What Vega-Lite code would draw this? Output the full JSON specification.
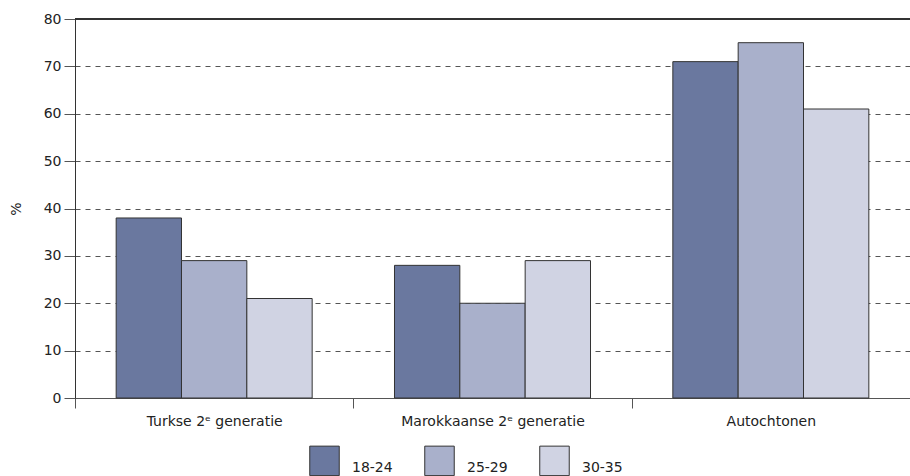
{
  "$schema": "https://vega.github.io/schema/vega-lite/v6.json",
  "width": 835,
  "height": 379,
  "autosize": {"type": "none"},
  "padding": {"left": 75, "top": 19, "right": 0, "bottom": 78},
  "config": {
    "font": "DejaVu Sans",
    "view": {"stroke": null}
  },
  "data": {
    "values": [
      {"groep": "Turkse 2ᵉ generatie", "leeftijd": "18-24", "waarde": 38},
      {"groep": "Turkse 2ᵉ generatie", "leeftijd": "25-29", "waarde": 29},
      {"groep": "Turkse 2ᵉ generatie", "leeftijd": "30-35", "waarde": 21},
      {"groep": "Marokkaanse 2ᵉ generatie", "leeftijd": "18-24", "waarde": 28},
      {"groep": "Marokkaanse 2ᵉ generatie", "leeftijd": "25-29", "waarde": 20},
      {"groep": "Marokkaanse 2ᵉ generatie", "leeftijd": "30-35", "waarde": 29},
      {"groep": "Autochtonen", "leeftijd": "18-24", "waarde": 71},
      {"groep": "Autochtonen", "leeftijd": "25-29", "waarde": 75},
      {"groep": "Autochtonen", "leeftijd": "30-35", "waarde": 61}
    ]
  },
  "layer": [
    {
      "mark": {"type": "bar", "stroke": "#333", "strokeWidth": 1},
      "encoding": {
        "x": {
          "field": "groep",
          "type": "nominal",
          "sort": ["Turkse 2ᵉ generatie", "Marokkaanse 2ᵉ generatie", "Autochtonen"],
          "scale": {"paddingInner": 0, "paddingOuter": 0},
          "axis": {
            "title": null,
            "labelAngle": 0,
            "labelFontSize": 14,
            "labelColor": "#222",
            "labelLimit": 400,
            "tickBand": "extent",
            "tickSize": 10,
            "labelPadding": 6,
            "domainColor": "#555",
            "tickColor": "#555",
            "grid": false
          }
        },
        "xOffset": {
          "field": "leeftijd",
          "type": "nominal",
          "scale": {"paddingOuter": 0.63, "paddingInner": 0}
        },
        "y": {
          "field": "waarde",
          "type": "quantitative",
          "scale": {"domain": [0, 80], "nice": false},
          "axis": {
            "values": [0, 10, 20, 30, 40, 50, 60, 70, 80],
            "title": "%",
            "titleFontSize": 14,
            "titleColor": "#222",
            "titleFontWeight": "normal",
            "titlePadding": 20,
            "labelFontSize": 14,
            "labelColor": "#222",
            "grid": true,
            "gridDash": [5, 5],
            "gridColor": "#555",
            "gridWidth": 1,
            "tickSize": 11,
            "labelPadding": 3,
            "domainColor": "#333",
            "tickColor": "#555"
          }
        },
        "color": {
          "field": "leeftijd",
          "type": "nominal",
          "scale": {"domain": ["18-24", "25-29", "30-35"], "range": ["#6a789f", "#a9b0cb", "#d0d3e3"]},
          "legend": {
            "title": null,
            "orient": "none",
            "legendX": 234,
            "legendY": 426,
            "direction": "horizontal",
            "symbolType": "square",
            "symbolSize": 870,
            "symbolStrokeColor": "#333",
            "symbolStrokeWidth": 1,
            "symbolOpacity": 1,
            "labelFontSize": 14,
            "labelColor": "#222",
            "labelBaseline": "top",
            "labelOffset": 12,
            "columnPadding": 29
          }
        }
      }
    },
    {
      "mark": {"type": "rule", "color": "#333", "strokeWidth": 1},
      "encoding": {"y": {"datum": 80}}
    }
  ]
}
